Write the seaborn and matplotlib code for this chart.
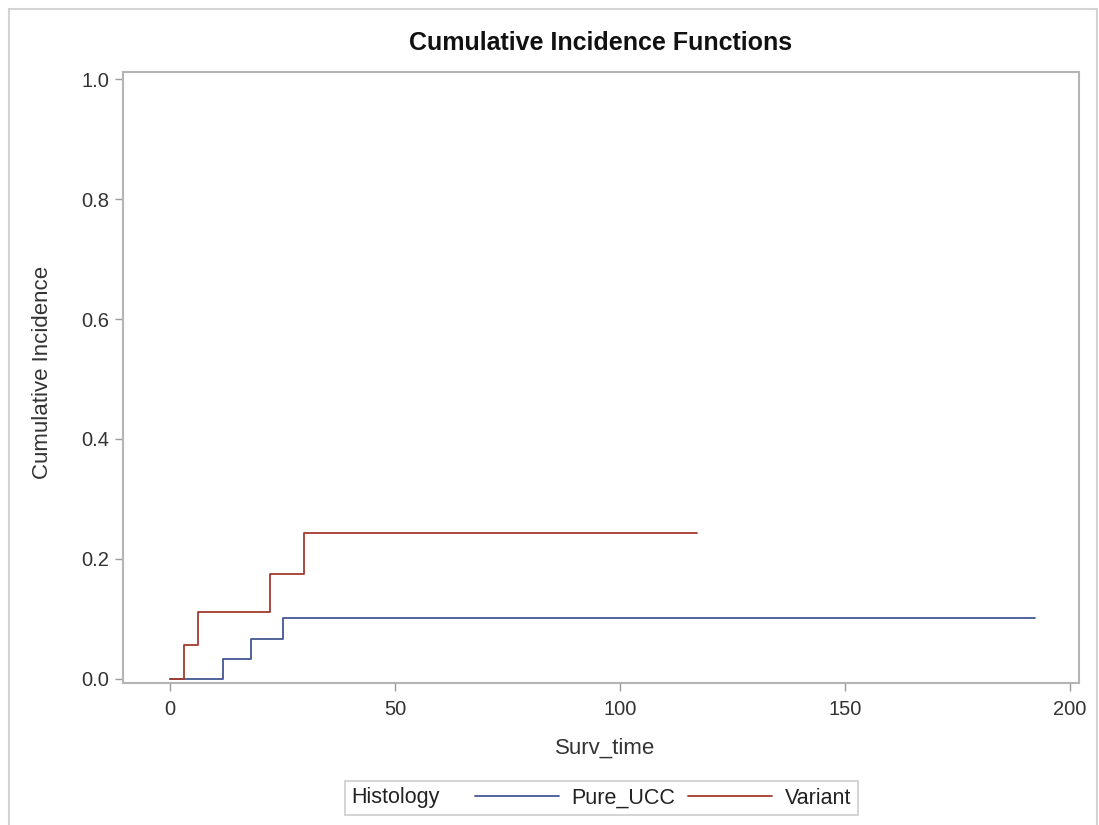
import matplotlib
matplotlib.use("Agg")
import matplotlib.pyplot as plt
import numpy as np
import pandas as pd
import seaborn as sns
from matplotlib.patches import Rectangle
from matplotlib.offsetbox import HPacker

# step points
ucc_time = [0, 11.8, 18, 25.1, 192.2]
ucc_cif = [0.0, 0.034, 0.067, 0.102, 0.102]
var_time = [0, 3.1, 6.2, 22.2, 29.8, 117.1]
var_cif = [0.0, 0.056, 0.111, 0.175, 0.243, 0.243]
groups = ["Pure_UCC", "Variant"]
colors = ["#445694", "#A23A2E"]

df = pd.concat([
    pd.DataFrame({"Surv_time": ucc_time, "cif": ucc_cif, "Histology": "Pure_UCC"}),
    pd.DataFrame({"Surv_time": var_time, "cif": var_cif, "Histology": "Variant"}),
])

sns.set_style("white")
plt.rcParams["font.family"] = ["Liberation Sans", "DejaVu Sans"]

W, H = 1099, 825
fig = plt.figure(figsize=(W / 100, H / 100), dpi=100)
ax = fig.add_axes([123 / W, 1 - 683 / H, (1079 - 123) / W, (683 - 72) / H])

sns.lineplot(data=df, x="Surv_time", y="cif", hue="Histology", hue_order=groups,
             palette=colors, drawstyle="steps-post", estimator=None, sort=True,
             linewidth=1.3, ax=ax, legend=False)

ax.set_xlim(-10.44, 202)
ax.set_ylim(-0.0067, 1.0117)
ax.set_xticks([0, 50, 100, 150, 200])
ax.set_yticks([0.0, 0.2, 0.4, 0.6, 0.8, 1.0])
ax.set_yticklabels(["0.0", "0.2", "0.4", "0.6", "0.8", "1.0"])
for s in ax.spines.values():
    s.set_color("#b4b4b4")
    s.set_linewidth(1.5)
ax.tick_params(axis="both", which="major", direction="out", length=6, width=1.0,
               color="#999999", labelsize=14.5, labelcolor="#333333",
               bottom=True, left=True)
ax.tick_params(axis="x", pad=6)
ax.tick_params(axis="y", pad=4)
ax.set_xlabel("")
ax.set_ylabel("")

fig.text(601 / W, 1 - 43 / H, "Cumulative Incidence Functions", ha="center",
         va="center", fontsize=18, fontweight="bold", color="#111111")
fig.text(605 / W, 1 - 748 / H, "Surv_time", ha="center", va="center",
         fontsize=16, color="#333333")
fig.text(43 / W, 1 - 372 / H, "Cumulative Incidence", ha="center", va="center",
         rotation=90, fontsize=16, color="#333333")

handles = [plt.Line2D([], [], color=c, linewidth=1.3) for c in colors]
leg = fig.legend(handles, groups, title="Histology", ncol=2, loc="center",
                 bbox_to_anchor=(601.5 / W, 1 - 798 / H), fontsize=15.5,
                 title_fontsize=15.5, frameon=True, fancybox=False, handlelength=3.9,
                 columnspacing=0.6, handletextpad=0.6, borderpad=0.3)
leg.get_frame().set_edgecolor("#c0c0c0")
leg.get_frame().set_linewidth(1.2)
leg.get_title().set_color("#222222")
for t in leg.get_texts():
    t.set_color("#222222")
box = leg._legend_box
hp = HPacker(children=list(box.get_children()), align="center", pad=0, sep=25)
box._children = [hp]

fig.patches.append(Rectangle((9 / W, -0.01), (1097 - 9) / W, 1 - 9 / H + 0.01,
                             transform=fig.transFigure, fill=False,
                             edgecolor="#d4d4d4", linewidth=1.5))

fig.savefig("out.png", dpi=100)
